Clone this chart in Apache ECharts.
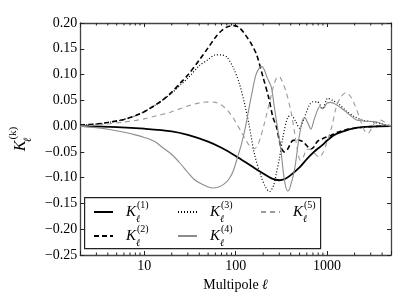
<!DOCTYPE html>
<html><head><meta charset="utf-8">
<script src="https://cdn.jsdelivr.net/npm/echarts@6/dist/echarts.min.js"></script>
<style>html,body{margin:0;padding:0;background:#fff}#c{width:407px;height:305px}</style>
</head><body><div id="c"></div>
<script>
// ---- axes ----
const xMin = 2, xMax = 5000;
const yMin = -0.25, yMax = 0.20, yStep = 0.05;
const xMajorLabels = [10, 100, 1000];
const xMinorTicks = [3,4,5,6,7,8,9,20,30,40,50,60,70,80,90,200,300,400,500,600,700,800,900,2000,3000,4000];

// ---- K^(1): black solid ----
const ell1 = [2,5,10,20,30,50,70,100,150,200,250,300,350,400,500,600,700,800,900,1000,1200,1400,2000,3000,5000];
const k1 = [0,-0.002,-0.005,-0.010,-0.017,-0.030,-0.042,-0.058,-0.078,-0.092,-0.102,-0.105,-0.102,-0.095,-0.080,-0.064,-0.052,-0.043,-0.036,-0.028,-0.017,-0.012,-0.004,-0.001,0];

// ---- K^(2): black dashed ----
const ell2 = [2,3,4,6,8,10,13,16,20,25,30,40,50,60,70,80,95,110,130,150,170,200,230,255,280,310,340,370,420,470,540,600,660,720,780,900,1100,1300,1600,2000,3000,5000];
const k2 = [0.002,0.004,0.007,0.013,0.020,0.028,0.040,0.051,0.066,0.084,0.099,0.128,0.152,0.172,0.185,0.192,0.195,0.191,0.175,0.158,0.138,0.094,0.055,0.018,-0.002,-0.038,-0.050,-0.045,-0.028,-0.027,-0.030,-0.038,-0.045,-0.040,-0.030,-0.024,-0.018,-0.012,-0.007,-0.004,-0.001,0];

// ---- K^(3): black dotted ----
const ell3 = [2,3,4,6,8,10,13,16,20,25,30,40,50,60,70,80,95,110,125,140,160,190,215,235,260,280,300,330,370,405,450,500,560,640,700,785,895,1015,1150,1360,1600,2000,2500,3000,4000,5000];
const k3 = [0.002,0.004,0.007,0.013,0.020,0.028,0.040,0.051,0.064,0.080,0.093,0.117,0.129,0.138,0.138,0.134,0.112,0.082,0.044,0.003,-0.053,-0.098,-0.120,-0.127,-0.115,-0.090,-0.064,-0.020,0.016,0.021,0.010,-0.004,0.015,0.041,0.047,0.047,0.034,0.054,0.050,0.042,0.030,0.018,0.011,0.009,0.004,0.001];

// ---- K^(4): gray solid ----
const ell4 = [2,3,4,6,8,10,13,16,20,25,30,35,42,50,57,65,75,85,95,105,115,128,140,150,165,180,192,205,220,245,265,285,313,330,350,372,395,440,495,540,570,620,665,720,785,830,880,930,1000,1100,1250,1400,1600,1850,2100,2500,3000,3500,4200,5000];
const k4 = [0,-0.003,-0.006,-0.012,-0.017,-0.022,-0.030,-0.042,-0.055,-0.073,-0.090,-0.103,-0.112,-0.118,-0.120,-0.118,-0.112,-0.102,-0.085,-0.060,-0.037,-0.002,0.035,0.062,0.097,0.112,0.116,0.110,0.095,0.076,0.037,0.000,-0.047,-0.085,-0.115,-0.126,-0.118,-0.085,-0.021,0.012,0.016,0.005,-0.006,0.012,0.031,0.038,0.034,0.036,0.045,0.046,0.042,0.036,0.028,0.019,0.012,0.010,0.009,0.008,0.003,0];

// ---- K^(5): gray dashed ----
const ell5 = [2,3,4,6,8,10,13,16,20,25,30,40,50,60,70,80,90,100,115,130,145,160,175,190,206,220,233,250,265,280,300,320,356,403,440,478,510,550,600,650,720,820,900,1000,1130,1250,1400,1600,1800,2000,2250,2550,2800,3250,3800,4500,5000];
const k5 = [0,0.002,0.004,0.008,0.011,0.014,0.019,0.023,0.028,0.034,0.039,0.045,0.047,0.046,0.041,0.032,0.021,0.008,-0.011,-0.028,-0.040,-0.044,-0.036,-0.018,0.005,0.025,0.044,0.066,0.083,0.093,0.096,0.088,0.067,0.028,-0.011,-0.050,-0.066,-0.060,-0.045,-0.045,-0.052,-0.060,-0.052,-0.030,0.000,0.035,0.055,0.065,0.058,0.042,0.018,-0.008,-0.014,0.004,0.012,0.005,0];

const seriesNames = ['K1', 'K2', 'K3', 'K4', 'K5'];
const legendColumns = [['K1', 'K2'], ['K3', 'K4'], ['K5']];

const FONT = 'Liberation Serif';
const zip = (xs, ys) => xs.map((x, i) => [x, ys[i]]);

const richK = {
  sp: {width: 8, fontSize: 10},
  K: {fontFamily: FONT, fontStyle: 'italic', fontSize: 15, lineHeight: 24, color: '#000'},
  sub: {fontFamily: FONT, fontStyle: 'italic', fontSize: 10, lineHeight: 11, verticalAlign: 'bottom', width: 1, color: '#000'},
  sup: {fontFamily: FONT, fontSize: 10, lineHeight: 11, verticalAlign: 'top', color: '#000'}
};

const lineSeries = [
  {name: seriesNames[0], data: zip(ell1, k1), lineStyle: {color: '#000', width: 1.8, type: 'solid'}},
  {name: seriesNames[1], data: zip(ell2, k2), lineStyle: {color: '#000', width: 1.6, type: [5, 3]}},
  {name: seriesNames[2], data: zip(ell3, k3), lineStyle: {color: '#000', width: 1.2, type: [1, 2]}},
  {name: seriesNames[3], data: zip(ell4, k4), lineStyle: {color: '#8c8c8c', width: 1.1, type: 'solid'}},
  {name: seriesNames[4], data: zip(ell5, k5), lineStyle: {color: '#9a9a9a', width: 1.1, type: [5, 4]}}
].map(s => Object.assign({type: 'line', symbol: 'none', showSymbol: false, smooth: 0.3, itemStyle: {color: s.lineStyle.color}, z: 2, xAxisIndex: 0, yAxisIndex: 0}, s));

const frame = {show: true, onZero: false, lineStyle: {color: '#444', width: 1.3}};
const tick = {show: true, inside: true, length: 4, lineStyle: {color: '#222', width: 1}};

const legendLefts = [93, 177, 260];
const legends = legendColumns.map((names, i) => ({
  data: names, orient: 'vertical', left: legendLefts[i], top: 200,
  itemWidth: 19, itemHeight: 14, itemGap: 0, padding: 0, z: 8,
  inactiveColor: '#000', itemStyle: {opacity: 0},
  formatter: name => '{sp| }{K|K}{sub|ℓ}{sup|(' + name.slice(1) + ')}',
  textStyle: {fontFamily: FONT, rich: richK}
}));

const chart = echarts.init(document.getElementById('c'), null, {renderer: 'canvas'});
chart.setOption({
  animation: false,
  backgroundColor: '#fff',
  grid: {left: 78, right: 16, top: 23, bottom: 50, containLabel: false},
  graphic: [{
    type: 'rect', left: 84, top: 197, z: 7, silent: true,
    shape: {width: 236, height: 51},
    style: {fill: '#fff', stroke: '#222', lineWidth: 1.2}
  }],
  xAxis: [
    {type: 'log', logBase: 10, min: xMin, max: xMax, position: 'bottom',
     axisLine: frame, axisTick: tick, splitLine: {show: false}, minorTick: {show: false},
     axisLabel: {margin: 4, fontFamily: FONT, fontSize: 14, color: '#000',
       formatter: v => xMajorLabels.some(m => Math.abs(v - m) < 1e-6 * m) ? String(Math.round(v)) : ''},
     name: 'Multipole {l|ℓ}', nameLocation: 'middle', nameGap: 16,
     nameTextStyle: {fontFamily: FONT, fontSize: 14, color: '#000', verticalAlign: 'top',
       rich: {l: {fontFamily: FONT, fontStyle: 'italic', fontSize: 14, color: '#000'}}}},
    {type: 'log', logBase: 10, min: xMin, max: xMax, position: 'top',
     axisLine: frame, axisTick: tick, splitLine: {show: false}, axisLabel: {show: false}}
  ],
  yAxis: [
    {type: 'value', min: yMin, max: yMax, interval: yStep, position: 'left',
     axisLine: frame, axisTick: tick, splitLine: {show: false},
     axisLabel: {margin: 3, fontFamily: FONT, fontSize: 14, color: '#000',
       formatter: v => Math.abs(v) < 1e-9 ? '0.00' : (v < 0 ? '\u2212' : '') + Math.abs(v).toFixed(2)},
     name: '{K|K}{sub|ℓ}{sup|(k)}', nameLocation: 'middle', nameGap: 46, nameRotate: 90,
     nameTextStyle: {rich: {
       K: {fontFamily: FONT, fontStyle: 'italic', fontSize: 16, lineHeight: 26, color: '#000'},
       sub: {fontFamily: FONT, fontStyle: 'italic', fontSize: 11, lineHeight: 12, verticalAlign: 'bottom', width: 1, color: '#000'},
       sup: {fontFamily: FONT, fontSize: 11, lineHeight: 12, verticalAlign: 'top', color: '#000'}
     }}},
    {type: 'value', min: yMin, max: yMax, interval: yStep, position: 'right',
     axisLine: frame, axisTick: tick, splitLine: {show: false}, axisLabel: {show: false}}
  ],
  legend: legends,
  series: lineSeries.concat([{
    type: 'custom', name: 'minorTicks', silent: true, z: 5,
    xAxisIndex: 0, yAxisIndex: 0, clip: false,
    data: xMinorTicks.map(v => [v, yMin]),
    renderItem: (params, api) => {
      const x = api.coord([api.value(0), yMin])[0];
      const yb = api.coord([xMin, yMin])[1];
      const yt = api.coord([xMin, yMax])[1];
      const st = {stroke: '#222', lineWidth: 1};
      return {type: 'group', children: [
        {type: 'line', shape: {x1: x, y1: yb, x2: x, y2: yb - 2.5}, style: st},
        {type: 'line', shape: {x1: x, y1: yt, x2: x, y2: yt + 2.5}, style: st}
      ]};
    }
  }])
});
</script>
</body></html>
